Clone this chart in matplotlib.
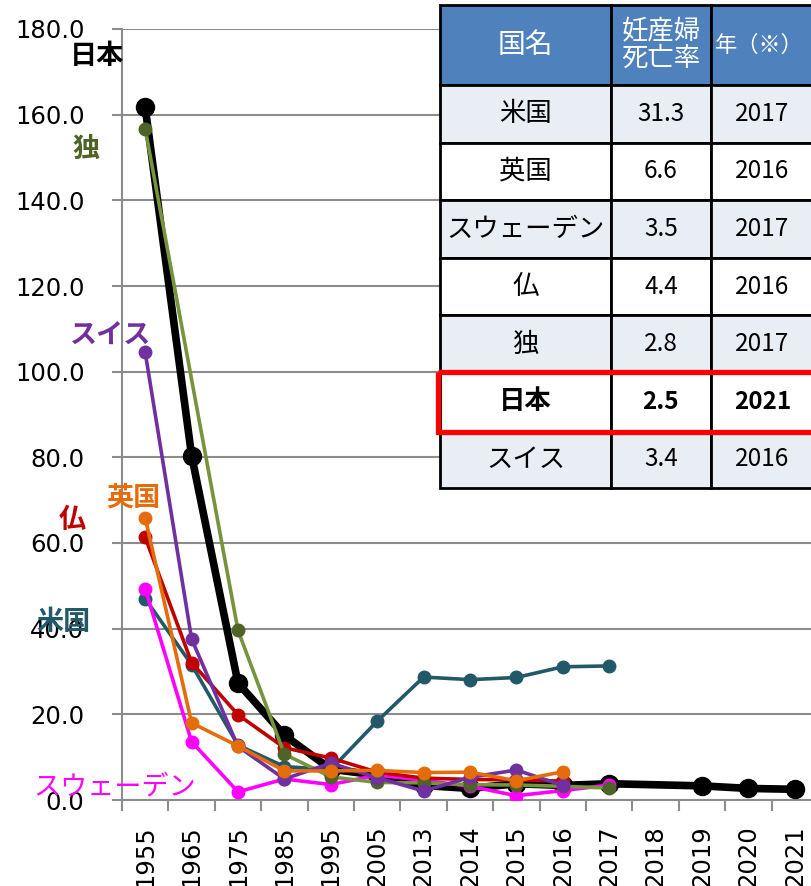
import numpy as np
import matplotlib
matplotlib.use("Agg")
import matplotlib.pyplot as plt
from matplotlib.patches import Rectangle

plt.rcParams['font.family'] = ['DejaVu Sans', 'Noto Sans CJK JP']
JP = ['Noto Sans CJK JP', 'DejaVu Sans']

years = ["1955", "1965", "1975", "1985", "1995", "2005", "2013", "2014",
         "2015", "2016", "2017", "2018", "2019", "2020", "2021"]

# maternal mortality (per 100,000 births), None = no data
japan = [161.7, 80.4, 27.3, 15.1, 7.2, 5.8, 3.4, 2.7, 3.8, 3.4, 3.8, None, 3.3, 2.7, 2.5]
usa = [47.0, 31.6, 12.8, 7.8, 7.1, 18.4, 28.7, 28.1, 28.6, 31.1, 31.3]
sweden = [49.3, 13.6, 1.9, 4.9, 3.6, 5.8, 4.6, 3.2, 1.0, 2.2, 3.5]
france = [61.3, 32.1, 19.9, 12.2, 9.8, 6.5, 5.1, 4.8, 4.7, 4.4]
germany = [156.7, None, 39.6, 10.7, 5.4, 4.1, 4.0, 3.6, 3.5, 3.2, 2.8]
swiss = [104.5, 37.6, 12.5, 4.9, 8.6, 5.2, 2.1, 5.3, 7.0, 3.4]
uk = [65.9, 18.0, 12.6, 6.8, 6.8, 6.9, 6.4, 6.5, 4.5, 6.6]

# table contents
tbl_header = ["国名", "妊産婦\n死亡率", "年（※）"]
tbl_names = ["米国", "英国", "スウェーデン", "仏", "独", "日本", "スイス"]
tbl_rates = ["31.3", "6.6", "3.5", "4.4", "2.8", "2.5", "3.4"]
tbl_years = ["2017", "2016", "2017", "2016", "2017", "2021", "2016"]

W, H = 812, 886
fig = plt.figure(figsize=(W / 100, H / 100), dpi=100)
ax = fig.add_axes([122 / W, 1 - 800 / H, 696 / W, 771 / H])


def plot_series(vals, color, mcolor, lw, ms, z):
    x = [i for i, v in enumerate(vals) if v is not None]
    y = [v for v in vals if v is not None]
    ax.plot(x, y, color=color, lw=lw, marker='o', ms=ms, mfc=mcolor, mec=mcolor,
            zorder=z, solid_joinstyle='round', solid_capstyle='round')


plot_series(japan, 'black', 'black', 5.5, 13, 3)
plot_series(usa, '#215968', '#215968', 2.6, 9, 4)
plot_series(sweden, '#FF00FF', '#FF00FF', 2.6, 9, 5)
plot_series(france, '#C00000', '#C00000', 2.6, 9, 6)
plot_series(germany, '#77933C', '#4F6228', 2.6, 9, 7)
plot_series(swiss, '#7030A0', '#7030A0', 2.6, 9, 8)
plot_series(uk, '#E46C0A', '#E46C0A', 2.6, 9, 9)

ax.set_xlim(-0.5, len(years) - 0.5)
ax.set_ylim(0, 180)
ax.set_yticks(np.arange(0, 181, 20))
ax.set_yticklabels([f"{v:.1f}" for v in np.arange(0, 181, 20)], fontsize=17.5)
ax.set_xticks(range(len(years)))
ax.set_xticklabels(years, rotation=90, fontsize=17.5)
ax.set_xticks(np.arange(-0.5, len(years)), minor=True)
ax.tick_params(axis='x', which='major', length=0, pad=18)
ax.tick_params(axis='x', which='minor', length=8, width=1.5, color='#8c8c8c')
ax.tick_params(axis='y', length=7, width=1.5, color='#8c8c8c', pad=20)
ax.grid(axis='y', color='#8c8c8c', lw=1.5)
ax.set_axisbelow(True)
for s in ['top', 'right']:
    ax.spines[s].set_visible(False)
for s in ['left', 'bottom']:
    ax.spines[s].set_color('#8c8c8c')
    ax.spines[s].set_linewidth(1.5)

# series labels
labels = [("日本", 97, 56, 'black', 'bold'),
          ("独", 86, 150, '#4F6228', 'bold'),
          ("スイス", 111, 336, '#7030A0', 'bold'),
          ("英国", 133, 498, '#E46C0A', 'bold'),
          ("仏", 72, 520, '#C00000', 'bold'),
          ("米国", 63, 622, '#215968', 'bold'),
          ("スウェーデン", 115, 787, '#FF00FF', 'normal')]
for txt, px, py, c, wgt in labels:
    fig.text(px / W, 1 - py / H, txt, color=c, fontsize=19.5, fontweight=wgt,
             family=JP, ha='center', va='center', zorder=20)

# table overlay
tax = fig.add_axes([0, 0, 1, 1], zorder=10)
tax.set_xlim(0, W)
tax.set_ylim(H, 0)
tax.axis('off')
tax.patch.set_alpha(0)

col_x = [440, 611, 711, 814]
row_y = [5, 85] + [85 + 57.6 * (i + 1) for i in range(len(tbl_names))]
head_sizes = [20, 19, 16]

for j in range(3):
    x0, x1 = col_x[j], col_x[j + 1]
    tax.add_patch(Rectangle((x0, row_y[0]), x1 - x0, row_y[1] - row_y[0],
                            fc='#4F81BD', ec='black', lw=2))
    tax.text((x0 + x1) / 2 - (3 if j == 2 else 0), (row_y[0] + row_y[1]) / 2,
             tbl_header[j], color='white', fontsize=head_sizes[j], family=JP,
             ha='center', va='center', linespacing=1.0)

for i in range(len(tbl_names)):
    y0, y1 = row_y[i + 1], row_y[i + 2]
    bg = '#E9EDF4' if i % 2 == 0 else 'white'
    bold = tbl_names[i] == "日本"
    cells = [tbl_names[i], tbl_rates[i], tbl_years[i]]
    for j in range(3):
        x0, x1 = col_x[j], col_x[j + 1]
        tax.add_patch(Rectangle((x0, y0), x1 - x0, y1 - y0, fc=bg, ec='black', lw=2))
        tax.text((x0 + x1) / 2, (y0 + y1) / 2, cells[j], color='black',
                 fontsize=19 if j == 0 else 17.5, family=JP,
                 fontweight='bold' if bold else 'normal', ha='center', va='center')

# red highlight around Japan row
k = tbl_names.index("日本")
tax.add_patch(Rectangle((438, row_y[k + 1] - 1), 420, row_y[k + 2] - row_y[k + 1] + 2,
                        fc='none', ec='#FF0000', lw=3.8, zorder=5))

fig.savefig("out.png", dpi=100)
